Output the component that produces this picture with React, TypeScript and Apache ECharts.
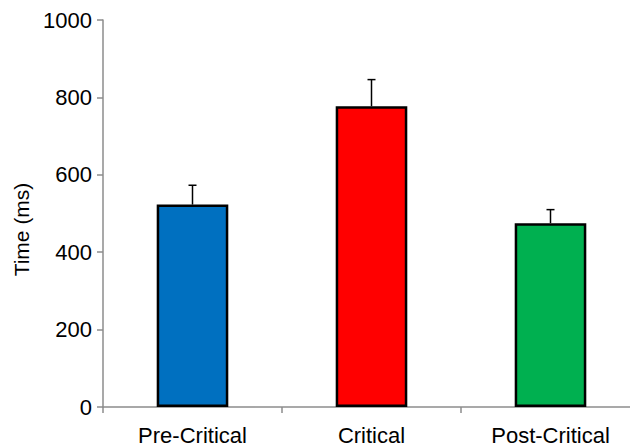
import React, { useEffect, useRef } from "react";
import * as echarts from "echarts";

const categories = ["Pre-Critical", "Critical", "Post-Critical"];
const means = [523, 777, 475];
const errorUpper = [573, 846, 510];
const barColors = ["#0070C0", "#FF0000", "#00B050"];
const yTicks = { min: 0, max: 1000, interval: 200 };

export default function App() {
  const ref = useRef<HTMLDivElement>(null);
  useEffect(() => {
    if (!ref.current) return;
    const chart = echarts.init(ref.current, null, { renderer: "svg" });
    const font = "Liberation Sans";
    chart.setOption({
      animation: false,
      grid: { left: 103, right: 0, top: 20, bottom: 38, containLabel: false },
      xAxis: {
        type: "category",
        data: categories,
        axisLine: { lineStyle: { color: "#8c8c8c", width: 1.5 } },
        axisTick: { show: true, length: 6, lineStyle: { color: "#8c8c8c", width: 1.5 } },
        axisLabel: { color: "#000", fontSize: 22, fontFamily: font, margin: 17 },
      },
      yAxis: {
        type: "value",
        min: yTicks.min,
        max: yTicks.max,
        interval: yTicks.interval,
        name: "Time (ms)",
        nameLocation: "middle",
        nameGap: 70,
        nameTextStyle: { color: "#000", fontSize: 21, fontFamily: font, padding: [0, 32, 0, 0] },
        axisLine: { show: true, lineStyle: { color: "#8c8c8c", width: 1.5 } },
        axisTick: { show: true, length: 6, lineStyle: { color: "#8c8c8c", width: 1.5 } },
        axisLabel: { color: "#000", fontSize: 22, fontFamily: font, margin: 11, formatter: (v: number) => String(v) },
        splitLine: { show: false },
      },
      series: [
        {
          type: "bar",
          barWidth: "40%",
          data: means.map((v, i) => ({
            value: v,
            itemStyle: { color: barColors[i], borderColor: "#000", borderWidth: 2.5 },
          })),
          z: 2,
        },
        {
          type: "custom",
          z: 3,
          data: means.map((v, i) => [i, v, errorUpper[i]]),
          renderItem: (params: any, api: any) => {
            const x = api.value(0);
            const lo = api.coord([x, api.value(1)]);
            const hi = api.coord([x, api.value(2)]);
            const cap = 4;
            const style = { stroke: "#000", lineWidth: 1.5 };
            return {
              type: "group",
              children: [
                { type: "line", shape: { x1: lo[0], y1: lo[1], x2: hi[0], y2: hi[1] }, style },
                { type: "line", shape: { x1: hi[0] - cap, y1: hi[1], x2: hi[0] + cap, y2: hi[1] }, style },
              ],
            };
          },
        },
      ],
    });
    return () => chart.dispose();
  }, []);
  return (
    <div style={{ width: 630, height: 446, position: "absolute", left: 0, top: 0, overflow: "hidden" }}>
      <div ref={ref} style={{ width: 640, height: 446 }} />
    </div>
  );
}
